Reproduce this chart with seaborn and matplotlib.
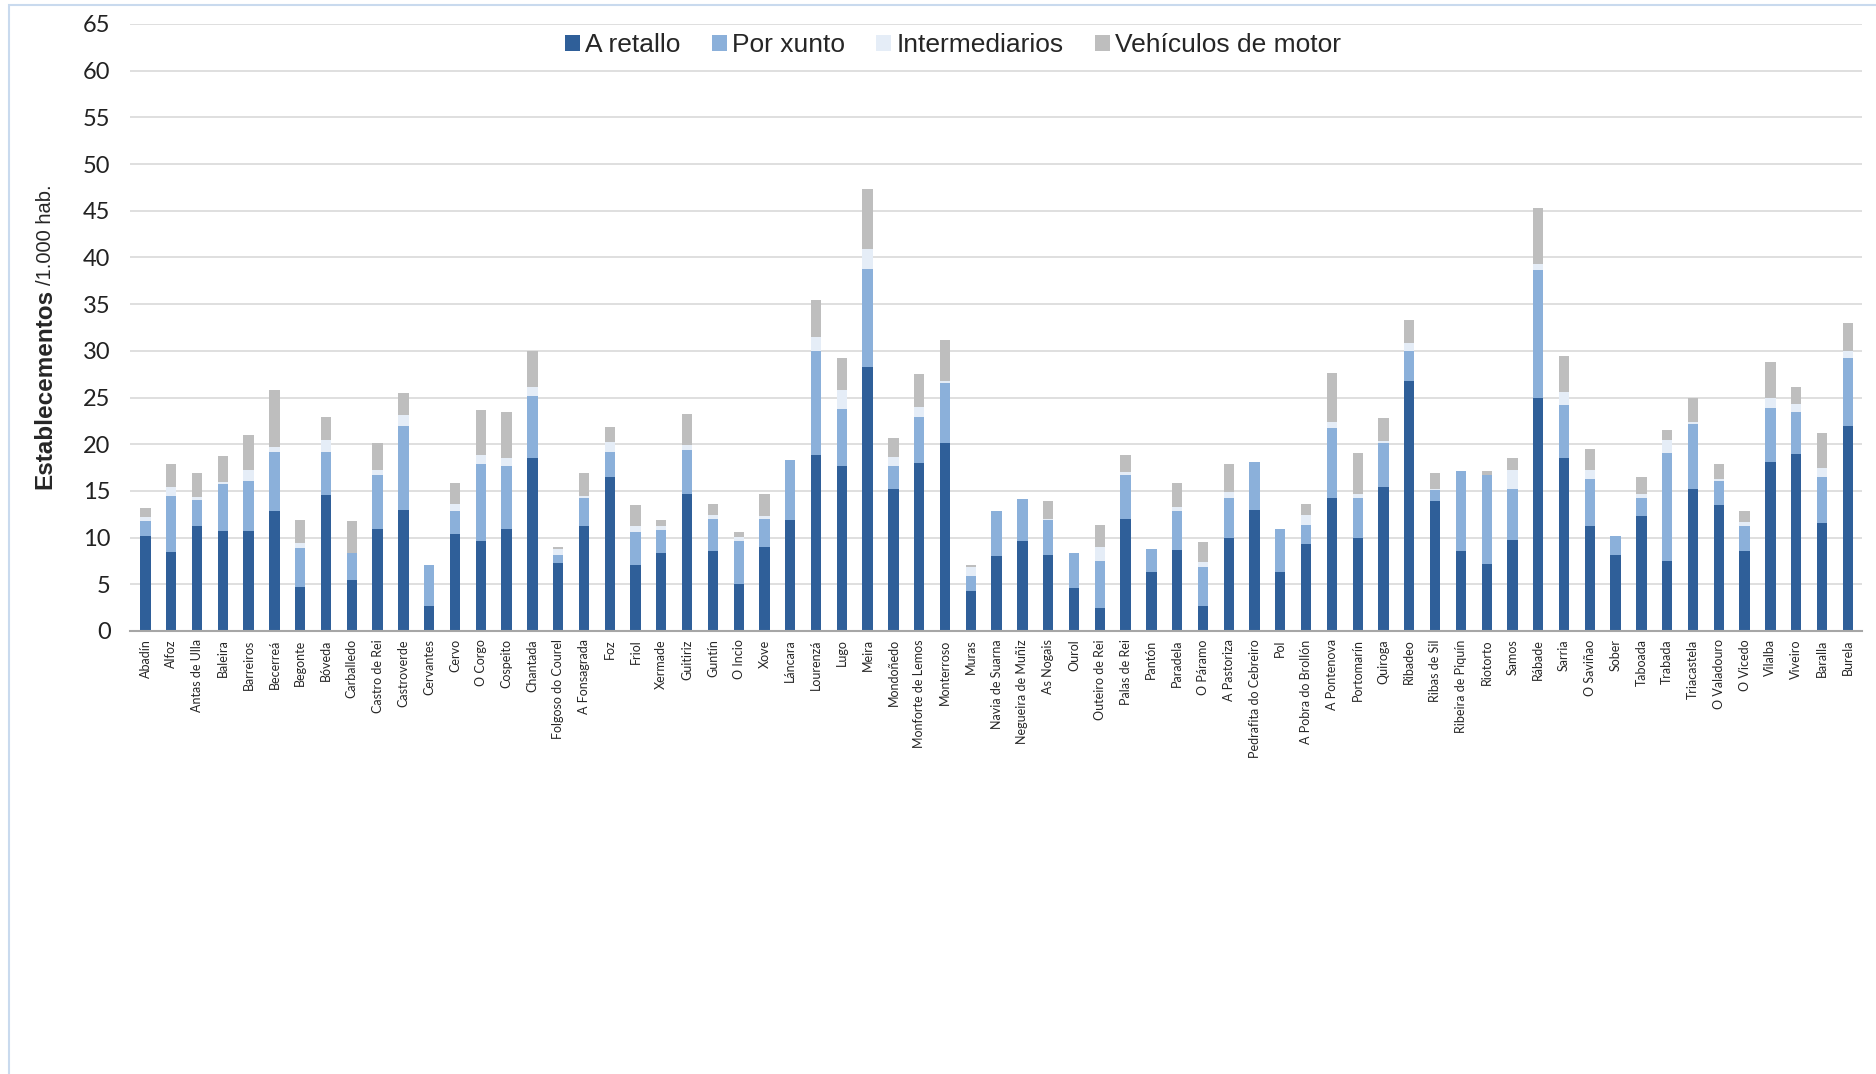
import numpy as np
import pandas as pd
import matplotlib
matplotlib.use("Agg")
import matplotlib.pyplot as plt
import seaborn as sns
from matplotlib.patches import Patch, Rectangle

# Establecementos comerciais por 1.000 hab.
concellos = [
    "Abadín", "Alfoz", "Antas de Ulla", "Baleira", "Barreiros", "Becerreá", "Begonte",
    "Bóveda", "Carballedo", "Castro de Rei", "Castroverde", "Cervantes", "Cervo", "O Corgo",
    "Cospeito", "Chantada", "Folgoso do Courel", "A Fonsagrada", "Foz", "Friol", "Xermade",
    "Guitiriz", "Guntín", "O Incio", "Xove", "Láncara", "Lourenzá", "Lugo", "Meira",
    "Mondoñedo", "Monforte de Lemos", "Monterroso", "Muras", "Navia de Suarna",
    "Negueira de Muñiz", "As Nogais", "Ourol", "Outeiro de Rei", "Palas de Rei", "Pantón",
    "Paradela", "O Páramo", "A Pastoriza", "Pedrafita do Cebreiro", "Pol",
    "A Pobra do Brollón", "A Pontenova", "Portomarín", "Quiroga", "Ribadeo", "Ribas de Sil",
    "Ribeira de Piquín", "Riotorto", "Samos", "Rábade", "Sarria", "O Saviñao", "Sober",
    "Taboada", "Trabada", "Triacastela", "O Valadouro", "O Vicedo", "Vilalba", "Viveiro",
    "Baralla", "Burela",
]

a_retallo = [
    10.2, 8.5, 11.2, 10.7, 10.7, 12.9, 4.7, 14.6, 5.5, 10.9, 13.0, 2.7, 10.4, 9.6,
    10.9, 18.5, 7.3, 11.2, 16.5, 7.1, 8.4, 14.7, 8.6, 5.0, 9.0, 11.9, 18.8, 17.7, 28.3,
    15.2, 18.0, 20.1, 4.3, 8.0, 9.6, 8.1, 4.6, 2.5, 12.0, 6.3, 8.7, 2.7, 10.0, 13.0, 6.3,
    9.3, 14.2, 10.0, 15.4, 26.8, 13.9, 8.6, 7.2, 9.7, 24.9, 18.5, 11.2, 8.1, 12.3, 7.5,
    15.2, 13.5, 8.6, 18.1, 18.9, 11.6, 22.0,
]
por_xunto = [
    1.6, 5.9, 2.8, 5.0, 5.4, 6.3, 4.2, 4.6, 2.8, 5.8, 9.0, 4.4, 2.4, 8.3,
    6.8, 6.7, 0.8, 3.0, 2.7, 3.5, 2.4, 4.7, 3.4, 4.6, 3.0, 6.4, 11.2, 6.1, 10.5,
    2.5, 4.9, 6.5, 1.6, 4.8, 4.5, 3.8, 3.7, 5.0, 4.7, 2.5, 4.1, 4.1, 4.2, 5.1, 4.6,
    2.1, 7.5, 4.2, 4.7, 3.2, 1.2, 8.5, 9.5, 5.5, 13.7, 5.7, 5.1, 2.1, 1.9, 11.6,
    7.0, 2.6, 2.6, 5.8, 4.6, 4.9, 7.2,
]
intermediarios = [
    0.4, 1.0, 0.3, 0.2, 1.1, 0.5, 0.5, 1.2, 0.1, 0.5, 1.1, 0.0, 0.8, 0.9,
    0.8, 0.9, 0.7, 0.3, 1.0, 0.6, 0.4, 0.5, 0.4, 0.5, 0.3, 0.0, 1.5, 2.0, 2.1,
    0.9, 1.1, 0.2, 1.0, 0.0, 0.0, 0.1, 0.0, 1.5, 0.3, 0.0, 0.5, 0.6, 0.7, 0.0, 0.0,
    1.0, 0.7, 0.5, 0.2, 0.8, 0.1, 0.0, 0.0, 2.0, 0.7, 1.4, 0.9, 0.0, 0.5, 1.3,
    0.2, 0.2, 0.5, 1.0, 0.8, 0.9, 0.8,
]
vehiculos = [
    1.0, 2.5, 2.6, 2.8, 3.8, 6.1, 2.5, 2.5, 3.4, 2.9, 2.4, 0.0, 2.2, 4.9,
    5.0, 3.9, 0.2, 2.4, 1.6, 2.3, 0.7, 3.3, 1.2, 0.5, 2.4, 0.0, 3.9, 3.4, 6.4,
    2.1, 3.5, 4.4, 0.2, 0.0, 0.0, 1.9, 0.0, 2.4, 1.8, 0.0, 2.5, 2.1, 3.0, 0.0, 0.0,
    1.2, 5.2, 4.4, 2.5, 2.5, 1.7, 0.0, 0.4, 1.3, 6.0, 3.8, 2.3, 0.0, 1.8, 1.1,
    2.5, 1.6, 1.1, 3.9, 1.8, 3.8, 3.0,
]

series = ["A retallo", "Por xunto", "Intermediarios", "Vehículos de motor"]
colors = ["#2F5F99", "#8BB0DA", "#E5EDF7", "#BEBEBE"]

df = pd.DataFrame({
    "concello": concellos,
    "A retallo": a_retallo,
    "Por xunto": por_xunto,
    "Intermediarios": intermediarios,
    "Vehículos de motor": vehiculos,
})

# cumulative heights so the stacked bars can be layered back to front
cum = df[series].cumsum(axis=1)

sns.set_style("white")
plt.rcParams["font.family"] = ["Lato", "DejaVu Sans"]

fig = plt.figure(figsize=(18.76, 10.74), dpi=100)
ax = fig.add_axes([0.0693, 0.4125, 0.9232, 0.5652])

for name, color in reversed(list(zip(series, colors))):
    sns.barplot(x=df["concello"], y=cum[name], color=color, width=0.4,
                saturation=1, linewidth=0, ax=ax)

ax.set_ylim(0, 65)
ax.set_yticks(np.arange(0, 66, 5))
ax.set_xlim(-0.6, len(concellos) - 0.45)
ax.yaxis.grid(True, color="#D9D9D9", linewidth=1.2)
ax.set_axisbelow(True)
for side in ["top", "right", "left"]:
    ax.spines[side].set_visible(False)
ax.spines["bottom"].set_color("#A6A6A6")
ax.spines["bottom"].set_linewidth(1.5)
ax.tick_params(axis="y", labelsize=17, length=0, pad=14, colors="#222222")
ax.tick_params(axis="x", labelsize=9, length=0, pad=6, rotation=90)
ax.set_xlabel("")
ax.set_ylabel("")

# legend at the top of the plot area
handles = [Patch(facecolor=c, edgecolor="none") for c in colors]
ax.legend(handles, series, loc="center", bbox_to_anchor=(0.508, 0.958),
          bbox_transform=fig.transFigure, ncol=4, frameon=True, framealpha=1,
          edgecolor="white", prop={"family": ["Liberation Sans"], "size": 19},
          handlelength=0.55, handleheight=0.55, handletextpad=0.2,
          columnspacing=1.2, borderpad=0.2)

# two-part y label: bold title + smaller units
t1 = fig.text(0.024, 0.545, "Establecementos", rotation=90, rotation_mode="anchor",
              ha="left", va="center", fontsize=17.5, fontweight="bold",
              family=["Liberation Sans"])
fig.canvas.draw()
bb = t1.get_window_extent().transformed(fig.transFigure.inverted())
fig.text(0.0245, bb.y1 + 0.003, "/1.000 hab.", rotation=90, rotation_mode="anchor",
         ha="left", va="center", fontsize=14.5, family=["Liberation Sans"])

# thin frame around the chart
fig.patches.append(Rectangle((0.005, -0.02), 1.1, 1.015, transform=fig.transFigure,
                             fill=False, edgecolor="#C9DAEE", linewidth=1.5))

fig.savefig("out.png", dpi=100)
